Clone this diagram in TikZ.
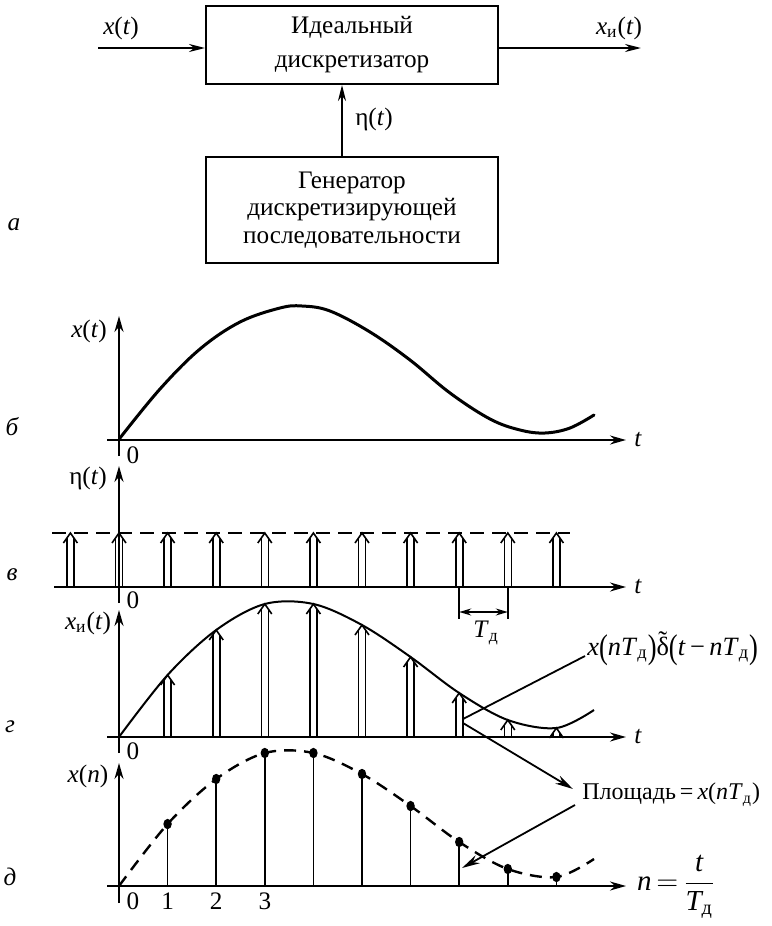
\documentclass[tikz,border=0pt]{standalone}
\usepackage{fontspec}
\setmainfont{Liberation Serif}
\usepackage{amsmath}
\usepackage{graphicx}
\usetikzlibrary{arrows.meta}
\newcommand\vi[1]{\textit{#1}}
\newcommand\sbs[1]{\textsubscript{#1}}
\newcommand\lpar{\raisebox{-0.12em}{\scalebox{1}[1.3]{(}}}
\newcommand\rpar{\raisebox{-0.12em}{\scalebox{1}[1.3]{)}}}
\newcommand\dtil{\leavevmode\hbox{\ooalign{δ\cr\hidewidth\raisebox{0.2em}{˜}\hidewidth\cr}}}
\newcommand\impulse[3]{%
  \draw[impl] (#1-3.5,#2) -- (#1-3.5,#3+5) (#1+3.5,#2) -- (#1+3.5,#3+5);
  \draw[impl,line join=miter] (#1-7,#3+10) -- (#1,#3) -- (#1+7,#3+10);}
\begin{document}
\begin{tikzpicture}[x=0.5pt,y=-0.5pt,
  font=\fontsize{12.6}{15}\selectfont,
  ax/.style={line width=1pt,-{Stealth[length=8pt,width=4.5pt]}},
  sig/.style={line width=1pt,-{Stealth[length=8pt,width=4pt]}},
  lead/.style={line width=0.9pt},
  leadarr/.style={line width=0.9pt,-{Stealth[length=9pt,width=4.5pt]}},
  blk/.style={draw,line width=1pt,minimum width=146pt,align=center,inner sep=0pt},
  impl/.style={line width=0.8pt},
  stem/.style={line width=0.8pt},
  curveb/.style={line width=1.5pt,line cap=round},
  curveg/.style={line width=1pt},
  dcurve/.style={line width=1.2pt,dash pattern=on 6pt off 4pt},
  plab/.style={font=\fontsize{12.6}{15}\selectfont\itshape}]
\useasboundingbox (0,0) rectangle (771,926);

% ---------- block diagram (a)
\node[blk,minimum height=39pt,font=\fontsize{12.6}{17}\selectfont] (b1) at (352,45) {Идеальный\\дискретизатор};
\node[blk,minimum height=53pt,font=\fontsize{12.6}{13.8}\selectfont] (b2) at (352,210) {Генератор\\дискретизирующей\\последовательности};
\coordinate (inp) at (98,48);
\coordinate (outp) at (641,48);
\coordinate (eta) at (342,120);
\draw[sig] (inp) -- (inp -| b1.west);
\draw[sig] (outp -| b1.east) -- (outp);
\draw[sig] (eta |- b2.north) -- (eta |- b1.south);
\node (lxin) at (121,28) {\vi{x}(\vi{t})};
\node (lxout) at (619,28) {\vi{x}\sbs{и}(\vi{t})};
\node (leta) at (374,119) {η(\vi{t})};
\node[plab] (pa) at (14,225) {а};

% ---------- panel b
\node[plab] (pb) at (12,427) {б};
\draw[ax] (107,440) -- (626,440);
\draw[ax] (119,456) -- (119,316);
\node (lxb) at (89,331) {\vi{x}(\vi{t})};
\node (tb) at (638,440) {\vi{t}};
\node (zb) at (133,455) {0};
\draw[curveb] plot[smooth,tension=0.6] coordinates {(120,438) (160,389) (200,349) (240,322) (280,308) (302,306) (330,311) (370,332) (410,360) (450,393) (490,419) (520,430) (545,433) (570,428) (594,415)};

% ---------- panel v
\node[plab] (pv) at (12,575) {в};
\foreach \k in {-1,...,9} {
  \pgfmathsetmacro\xx{119+48.6*\k}
  \impulse{\xx}{587}{533}
}
\draw[line width=1.2pt,dash pattern=on 7pt off 4pt] (52,533) -- (570,533);
\draw[ax] (54,587) -- (626,587);
\draw[ax] (119,603) -- (119,466);
\node (lev) at (88,478) {η(\vi{t})};
\node (tv) at (638,587) {\vi{t}};
\node (zv) at (133,600) {0};
\draw[impl] (459.2,587) -- (459.2,619);
\draw[impl] (507.8,587) -- (507.8,619);
\draw[line width=0.8pt,{Stealth[length=6pt,width=3.5pt]}-{Stealth[length=6pt,width=3.5pt]}] (459.2,612) -- (507.8,612);
\node (ltd) at (486,633) {\vi{T}\sbs{д}};

% ---------- panel g
\node[plab] (pg) at (10,727) {г};
\draw[ax] (107,737) -- (626,737);
\draw[ax] (119,753) -- (119,610);
\node (lxg) at (88,623) {\vi{x}\sbs{и}(\vi{t})};
\node (tg) at (638,737) {\vi{t}};
\node (zg) at (133,751) {0};
\draw[curveg] plot[smooth,tension=0.55] coordinates {(119,737) (167.6,675) (216.2,630) (264.8,604) (313.4,604) (362,625) (410.6,657) (459.2,693) (507.8,720) (556.4,728) (594,710)};

% ---------- panel d
\node[plab] (pd) at (10,877) {д};
\draw[ax] (107,886) -- (626,886);
\draw[ax] (119,903) -- (119,763);
\node (lxd) at (88,776) {\vi{x}(\vi{n})};
\node (n0) at (133,901) {0};
\node (n1) at (167.6,901) {1};
\node (n2) at (216.2,901) {2};
\node (n3) at (264.8,901) {3};
\node[anchor=west,font=\fontsize{14.5}{17}\selectfont] (nlab) at (630,887) {$\textit{n} \mkern-2mu= \mkern-2mu\dfrac{\textit{t}}{\textit{T}_{\text{д}}}$};
\draw[dcurve] plot[smooth,tension=0.55] coordinates {(119,886) (167.6,824) (216.2,779) (264.8,753) (313.4,753) (362,774) (410.6,806) (459.2,842) (507.8,869) (556.4,877) (594,859)};

\foreach \k/\h in {1/62,2/107,3/133,4/133,5/112,6/80,7/44,8/17,9/9} {
  \pgfmathsetmacro\xx{119+48.6*\k}
  \pgfmathsetmacro\yy{737-\h}
  \impulse{\xx}{737}{\yy}
  \pgfmathsetmacro\yd{886-\h}
  \draw[stem] (\xx,886) -- (\xx,\yd);
  \fill (\xx,\yd) ellipse [x radius=2.1pt,y radius=2.6pt];
}

% ---------- leaders and labels
\node[anchor=west,font=\fontsize{13.2}{16}\selectfont,inner sep=1pt] (fml) at (585,650) {\vi{x}\lpar\vi{nT}\sbs{д}\rpar\dtil\lpar\vi{t}\,−\,\vi{nT}\sbs{д}\rpar};
\node[anchor=west,font=\fontsize{12}{14}\selectfont,inner sep=1pt] (area) at (580,795) {Площадь\,=\,\vi{x}(\vi{nT}\sbs{д})};
\coordinate (s1) at (463,719);
\coordinate (e1) at (585,656);
\coordinate (s2) at (463,723);
\coordinate (e2) at (573,789);
\coordinate (s3) at (575,805);
\coordinate (e3) at (462,868);
\draw[lead] (s1) -- (e1);
\draw[leadarr] (s2) -- (e2);
\draw[leadarr] (s3) -- (e3);
\end{tikzpicture}
\end{document}
